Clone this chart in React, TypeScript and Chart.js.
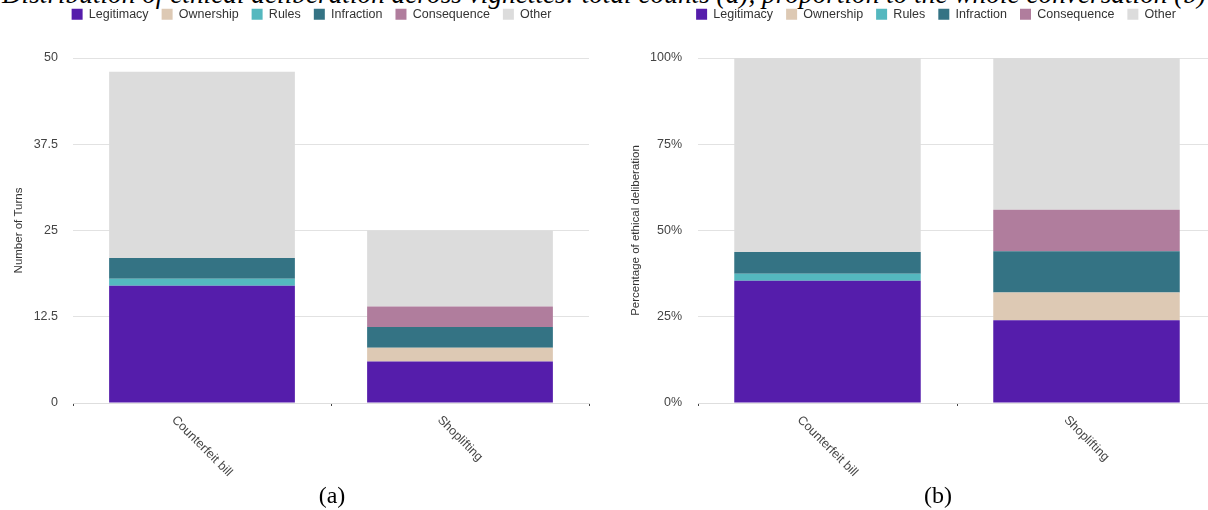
import React, { useEffect, useRef } from 'react';
import { Chart, registerables } from 'chart.js';

Chart.register(...registerables);

const FONT = '"Liberation Sans", Arial, Helvetica, sans-serif';
const SERIF = '"Liberation Serif", "Times New Roman", Times, serif';

// Categories and series
const categories = ['Counterfeit bill', 'Shoplifting'];
const seriesNames = ['Legitimacy', 'Ownership', 'Rules', 'Infraction', 'Consequence', 'Other'];
const seriesColors = ['#551dab', '#ddc9b4', '#54b8bf', '#347384', '#b07d9d', '#dcdcdc'];

// (a) total counts (number of turns)
const legitimacyCounts = [17, 6];
const ownershipCounts = [0, 2];
const rulesCounts = [1, 0];
const infractionCounts = [3, 3];
const consequenceCounts = [0, 3];
const otherCounts = [27, 11];

// (b) proportion of the whole conversation (%)
const legitimacyPct = [35.4, 24];
const ownershipPct = [0, 8];
const rulesPct = [2.1, 0];
const infractionPct = [6.3, 12];
const consequencePct = [0, 12];
const otherPct = [56.2, 44];

// Tick labels
const countTicks = [0, 12.5, 25, 37.5, 50];
const pctTicks = [0, 25, 50, 75, 100];

const titleText =
  'Distribution of ethical deliberation across vignettes: total counts (a), proportion to the whole conversation (b)';

const makeLegendSpacer = (h: number) => ({
  id: 'legendSpacer',
  beforeInit(chart: any) {
    const lg = chart.legend;
    if (!lg) return;
    const orig = lg.fit;
    lg.fit = function () {
      orig.call(this);
      this.height = h;
    };
  },
});

const slantLabels = {
  id: 'slantLabels',
  afterDraw(chart: any) {
    const xs = chart.scales.x;
    const ctx = chart.ctx;
    ctx.save();
    ctx.font = `12.5px ${FONT}`;
    ctx.fillStyle = '#444';
    ctx.textAlign = 'center';
    ctx.textBaseline = 'middle';
    const c = Math.SQRT1_2;
    (chart.data.labels as string[]).forEach((lab, i) => {
      const x = xs.getPixelForTick(i);
      const w = ctx.measureText(lab).width;
      const cy = xs.top + 15 + (w / 2) * c;
      ctx.save();
      ctx.translate(x, cy);
      ctx.rotate(Math.PI / 4);
      ctx.fillText(lab, 0, 0);
      ctx.restore();
    });
    ctx.restore();
  },
};

type PanelProps = {
  left: number;
  width: number;
  height: number;
  yWidth: number;
  rightWidth: number;
  titlePad: number;
  tickPad: number;
  series: number[][];
  ticks: number[];
  suffix: string;
  yTitle: string;
};

function ChartPanel(p: PanelProps) {
  const ref = useRef<HTMLCanvasElement | null>(null);
  useEffect(() => {
    if (!ref.current) return;
    const chart = new Chart(ref.current, {
      type: 'bar',
      data: {
        labels: categories,
        datasets: seriesNames.map((n, i) => ({
          label: n,
          data: p.series[i],
          backgroundColor: seriesColors[i],
          borderWidth: 0,
          categoryPercentage: 0.8,
          barPercentage: 0.9,
        })),
      },
      options: {
        responsive: false,
        animation: false,
        layout: { padding: { top: -5, left: 0, right: 0, bottom: 0 } },
        plugins: {
          legend: {
            position: 'top',
            labels: {
              boxWidth: 11,
              boxHeight: 11,
              padding: 13,
              color: '#333',
              font: { family: FONT, size: 12.5 },
            },
          },
          tooltip: { enabled: false },
          title: { display: false },
        },
        scales: {
          x: {
            stacked: true,
            offset: true,
            grid: {
              offset: true,
              drawOnChartArea: false,
              drawTicks: true,
              tickLength: 3,
              tickColor: '#444',
              color: '#444',
            },
            border: { display: true, color: '#dedede' },
            ticks: { display: false },
            afterFit: (s: any) => {
              s.height = 87;
            },
          },
          y: {
            stacked: true,
            min: 0,
            max: p.ticks[p.ticks.length - 1],
            grid: { drawTicks: false, color: '#e2e2e2' },
            border: { display: false },
            ticks: {
              padding: p.tickPad,
              color: '#444',
              font: { family: FONT, size: 12.5 },
              callback: (v: any) => `${v}${p.suffix}`,
            },
            afterBuildTicks: (s: any) => {
              s.ticks = p.ticks.map((v) => ({ value: v }));
            },
            title: {
              display: true,
              text: p.yTitle,
              color: '#333',
              font: { family: FONT, size: 11.5 },
              padding: { top: p.titlePad, bottom: 0 },
            },
            afterFit: (s: any) => {
              s.width = p.yWidth;
            },
          },
          y2: {
            position: 'right',
            display: true,
            grid: { display: false },
            border: { display: false },
            ticks: { display: false },
            afterFit: (s: any) => {
              s.width = p.rightWidth;
            },
          },
        },
      } as any,
      plugins: [makeLegendSpacer(63), slantLabels],
    });
    return () => chart.destroy();
  }, []);
  return (
    <canvas
      ref={ref}
      width={p.width}
      height={p.height}
      style={{ position: 'absolute', left: p.left, top: 0, width: p.width, height: p.height }}
    />
  );
}

const captionStyle: React.CSSProperties = {
  position: 'absolute',
  width: 200,
  top: 483,
  textAlign: 'center',
  fontFamily: SERIF,
  fontSize: 24,
  lineHeight: '24px',
  color: '#000',
};

export default function App() {
  return (
    <div
      style={{
        position: 'absolute',
        left: 0,
        top: 0,
        width: 1208,
        height: 510,
        overflow: 'hidden',
        background: '#fff',
      }}
    >
      <div
        style={{
          position: 'absolute',
          left: -200,
          width: 1608,
          top: -19,
          textAlign: 'center',
          whiteSpace: 'nowrap',
          fontFamily: SERIF,
          fontStyle: 'italic',
          fontSize: 27.3,
          lineHeight: '27px',
          color: '#000',
        }}
      >
        {titleText}
      </div>
      <ChartPanel
        left={0}
        width={623}
        height={490}
        yWidth={73}
        rightWidth={34}
        titlePad={12}
        tickPad={15}
        series={[legitimacyCounts, ownershipCounts, rulesCounts, infractionCounts, consequenceCounts, otherCounts]}
        ticks={countTicks}
        suffix=""
        yTitle="Number of Turns"
      />
      <ChartPanel
        left={604}
        width={664}
        height={490}
        yWidth={94}
        rightWidth={52}
        titlePad={25}
        tickPad={16}
        series={[legitimacyPct, ownershipPct, rulesPct, infractionPct, consequencePct, otherPct]}
        ticks={pctTicks}
        suffix="%"
        yTitle="Percentage of ethical deliberation"
      />
      <div style={{ ...captionStyle, left: 232 }}>(a)</div>
      <div style={{ ...captionStyle, left: 838 }}>(b)</div>
    </div>
  );
}
